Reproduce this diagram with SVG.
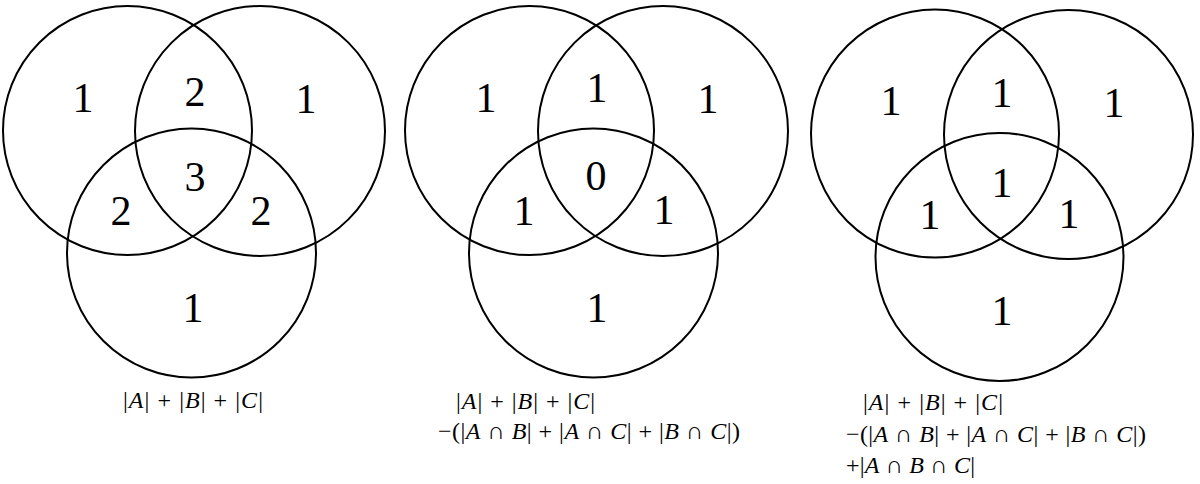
<svg xmlns="http://www.w3.org/2000/svg" width="1200" height="484" viewBox="0 0 1200 484">
<style>
.c{fill:none;stroke:#000;stroke-width:2}
.n{font-family:"Liberation Serif","DejaVu Serif",serif;font-size:42px;fill:#000;text-anchor:middle}
.f{font-family:"Liberation Serif","DejaVu Serif",serif;font-size:24px;fill:#000}
.i{font-style:italic}
</style>
<rect width="1200" height="484" fill="#fff"/>
<g id="venn1">
  <circle id="v1-A" class="c" cx="127.5" cy="130.5" r="124.5"/>
  <circle id="v1-B" class="c" cx="260" cy="131" r="125"/>
  <circle id="v1-C" class="c" cx="191.5" cy="253" r="124.5"/>
  <text class="n" x="83" y="112">1</text>
  <text class="n" x="195" y="106">2</text>
  <text class="n" x="306" y="113">1</text>
  <text class="n" x="195" y="191">3</text>
  <text class="n" x="121" y="225">2</text>
  <text class="n" x="261" y="225">2</text>
  <text class="n" x="193" y="322">1</text>
  <text class="f" x="123" y="408" textLength="140" lengthAdjust="spacing">|<tspan class="i">A</tspan>| + |<tspan class="i">B</tspan>| + |<tspan class="i">C</tspan>|</text>
</g>
<g id="venn2">
  <circle id="v2-A" class="c" cx="529.5" cy="130.5" r="124.5"/>
  <circle id="v2-B" class="c" cx="663" cy="131" r="125"/>
  <circle id="v2-C" class="c" cx="593.5" cy="253" r="124.5"/>
  <text class="n" x="486" y="112">1</text>
  <text class="n" x="597" y="102">1</text>
  <text class="n" x="708" y="113">1</text>
  <text class="n" x="596" y="190">0</text>
  <text class="n" x="524" y="225">1</text>
  <text class="n" x="664" y="224">1</text>
  <text class="n" x="597" y="322">1</text>
  <text class="f" x="456" y="409" textLength="139" lengthAdjust="spacing">|<tspan class="i">A</tspan>| + |<tspan class="i">B</tspan>| + |<tspan class="i">C</tspan>|</text>
  <text class="f" x="438" y="439" textLength="302" lengthAdjust="spacing">−(|<tspan class="i">A</tspan> ∩ <tspan class="i">B</tspan>| + |<tspan class="i">A</tspan> ∩ <tspan class="i">C</tspan>| + |<tspan class="i">B</tspan> ∩ <tspan class="i">C</tspan>|)</text>
</g>
<g id="venn3">
  <circle id="v3-A" class="c" cx="935" cy="133.5" r="124"/>
  <circle id="v3-B" class="c" cx="1068.5" cy="134.5" r="124.5"/>
  <circle id="v3-C" class="c" cx="999.5" cy="257" r="124"/>
  <text class="n" x="891" y="115">1</text>
  <text class="n" x="1002" y="107">1</text>
  <text class="n" x="1114" y="117">1</text>
  <text class="n" x="1002" y="197">1</text>
  <text class="n" x="930" y="229">1</text>
  <text class="n" x="1069" y="228">1</text>
  <text class="n" x="1002" y="325">1</text>
  <text class="f" x="863" y="410" textLength="140" lengthAdjust="spacing">|<tspan class="i">A</tspan>| + |<tspan class="i">B</tspan>| + |<tspan class="i">C</tspan>|</text>
  <text class="f" x="846" y="442" textLength="300" lengthAdjust="spacing">−(|<tspan class="i">A</tspan> ∩ <tspan class="i">B</tspan>| + |<tspan class="i">A</tspan> ∩ <tspan class="i">C</tspan>| + |<tspan class="i">B</tspan> ∩ <tspan class="i">C</tspan>|)</text>
  <text class="f" x="846" y="473" textLength="129" lengthAdjust="spacing">+|<tspan class="i">A</tspan> ∩ <tspan class="i">B</tspan> ∩ <tspan class="i">C</tspan>|</text>
</g>
</svg>
